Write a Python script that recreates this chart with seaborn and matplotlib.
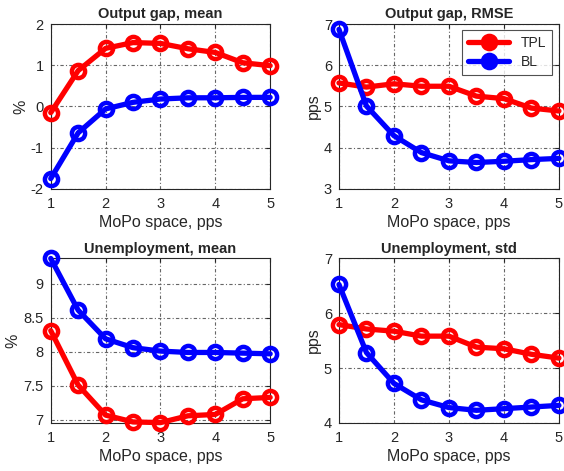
import numpy as np
import pandas as pd
import seaborn as sns
import matplotlib.pyplot as plt

# MoPo space grid and results per rule
mopo_space = [1, 1.5, 2, 2.5, 3, 3.5, 4, 4.5, 5]
rules = ["TPL", "BL"]

gap_mean_tpl = [-0.15, 0.87, 1.41, 1.55, 1.53, 1.40, 1.31, 1.06, 0.99]
gap_mean_bl = [-1.75, -0.64, -0.06, 0.10, 0.18, 0.21, 0.21, 0.22, 0.22]

gap_rmse_tpl = [5.57, 5.47, 5.55, 5.49, 5.49, 5.25, 5.19, 4.96, 4.89]
gap_rmse_bl = [6.87, 5.01, 4.29, 3.88, 3.68, 3.64, 3.67, 3.71, 3.74]

unemp_mean_tpl = [8.31, 7.51, 7.07, 6.97, 6.96, 7.06, 7.08, 7.31, 7.33]
unemp_mean_bl = [9.37, 8.61, 8.19, 8.06, 8.01, 7.99, 7.99, 7.98, 7.97]

unemp_std_tpl = [5.79, 5.71, 5.67, 5.58, 5.58, 5.38, 5.35, 5.25, 5.18]
unemp_std_bl = [6.52, 5.28, 4.72, 4.42, 4.28, 4.23, 4.26, 4.29, 4.32]

panels = [
    ("Output gap, mean", "%", gap_mean_tpl, gap_mean_bl, (-2, 2), [-2, -1, 0, 1, 2]),
    ("Output gap, RMSE", "pps", gap_rmse_tpl, gap_rmse_bl, (3, 7), [3, 4, 5, 6, 7]),
    ("Unemployment, mean", "%", unemp_mean_tpl, unemp_mean_bl, (6.955, 9.375), [7, 7.5, 8, 8.5, 9]),
    ("Unemployment, std", "pps", unemp_std_tpl, unemp_std_bl, (4, 7), [4, 5, 6, 7]),
]

sns.set_style("white")
plt.rcParams["font.family"] = ["Liberation Sans", "DejaVu Sans"]

fig = plt.figure(figsize=(5.64, 4.71), dpi=100)
rects = [
    [0.090, 0.599, 0.389, 0.350],
    [0.601, 0.599, 0.390, 0.350],
    [0.090, 0.102, 0.389, 0.350],
    [0.601, 0.102, 0.390, 0.350],
]
txt = "#262626"

for i, (title, ylab, tpl, bl, ylim, yticks) in enumerate(panels):
    ax = fig.add_axes(rects[i])
    df = pd.DataFrame({
        "x": mopo_space * 2,
        "y": tpl + bl,
        "rule": [rules[0]] * len(tpl) + [rules[1]] * len(bl),
    })
    sns.lineplot(data=df, x="x", y="y", hue="rule", palette={"TPL": "#ff0000", "BL": "#0000ff"},
                 marker="o", markersize=9.5, markerfacecolor="none", markeredgewidth=3.2,
                 linewidth=3.8, ax=ax, legend=(i == 1), clip_on=False, zorder=3)
    for ln in ax.get_lines():
        ln.set_markeredgecolor(ln.get_color())
    ax.set_xlim(1, 5)
    ax.set_ylim(*ylim)
    ax.set_xticks([1, 2, 3, 4, 5])
    ax.set_yticks(yticks)
    ax.set_yticklabels([f"{t:g}" for t in yticks])
    ax.grid(True, color="#666666", linestyle=(0, (3, 2, 1, 2)), linewidth=0.8)
    ax.tick_params(direction="in", length=3, top=True, right=True, labelsize=10.5,
                   colors=txt)
    ax.tick_params(axis="x", pad=6)
    ax.tick_params(axis="y", pad=5)
    for s in ax.spines.values():
        s.set_color(txt)
        s.set_linewidth(0.8)
    ax.set_title(title, fontsize=10.5, fontweight="bold", pad=4)
    ax.set_xlabel("MoPo space, pps", fontsize=11.5, color=txt, labelpad=3)
    ax.set_ylabel(ylab, fontsize=11.5, color=txt, labelpad=2)
    if i == 1:
        leg = ax.legend(loc="upper right", fontsize=10, frameon=True, fancybox=False,
                        edgecolor=txt, borderpad=0.45, handlelength=3, labelspacing=0.35,
                        borderaxespad=0, bbox_to_anchor=(0.97, 0.965))
        leg.get_frame().set_linewidth(0.8)
        for h in leg.legend_handles:
            h.set_markerfacecolor(h.get_color())

fig.savefig("out.png", dpi=100)
